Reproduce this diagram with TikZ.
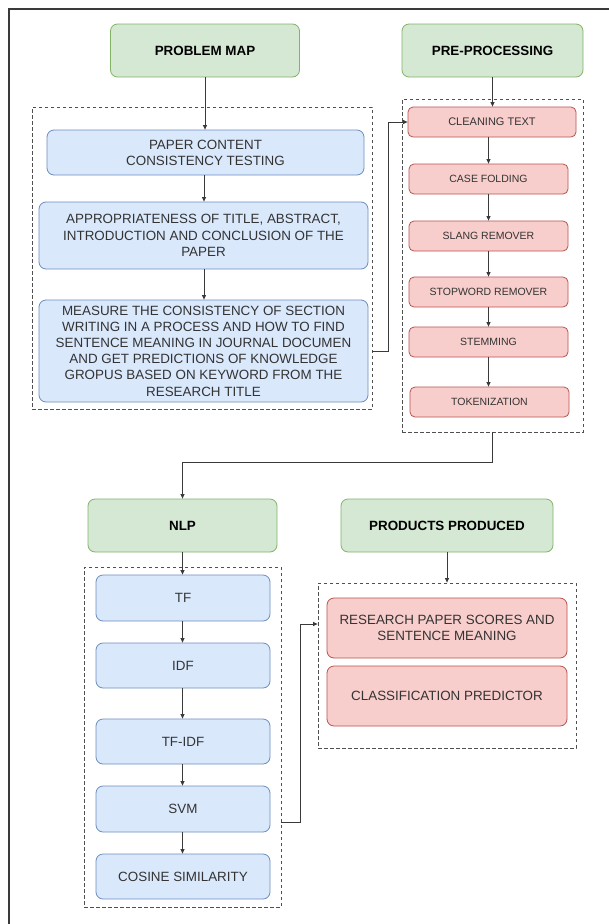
\documentclass[tikz,border=0pt]{standalone}
\usepackage{fontspec}
\setmainfont{Liberation Sans}
\usetikzlibrary{arrows.meta,calc}
\definecolor{gfill}{HTML}{D5E8D4}\definecolor{gline}{HTML}{82B366}
\definecolor{bfill}{HTML}{DAE8FC}\definecolor{bline}{HTML}{6C8EBF}
\definecolor{rfill}{HTML}{F8CECC}\definecolor{rline}{HTML}{B85450}
\definecolor{txt}{HTML}{333333}\definecolor{lin}{HTML}{3A3A3A}
\definecolor{dsh}{HTML}{505050}
\tikzset{
  base/.style={rounded corners=7pt, line width=0.8pt, inner sep=2pt, align=center, text=txt,
    font=\fontsize{13.4}{16.2}\selectfont},
  head/.style={base, fill=gfill, draw=gline, text=black, font=\fontsize{13.4}{16.2}\selectfont\bfseries},
  bluebox/.style={base, fill=bfill, draw=bline},
  redbox/.style={base, fill=rfill, draw=rline},
  smallred/.style={redbox, rounded corners=5pt, font=\fontsize{10.5}{12.5}\selectfont},
  group/.style={draw=dsh, dash pattern=on 3.5pt off 2.5pt, line width=0.8pt},
  arr/.style={draw=lin, line width=0.8pt, -{Triangle[length=4.5pt,width=4pt]}},
  frame/.style={draw=lin, line width=1.2pt}
}
\begin{document}
\begin{tikzpicture}[x=1pt,y=-1pt]
\useasboundingbox (0,0) rectangle (609,924);
\fill[white] (0,0) rectangle (609,924);
\draw[frame] (9,924) -- (9,9) -- (609,9);

% group boxes
\node[group, minimum width=340pt, minimum height=302pt] (dl) at (202,258) {};
\node[group, minimum width=181pt, minimum height=333pt] (dr) at (492.5,265.5) {};
\node[group, minimum width=197pt, minimum height=340pt] (dn) at (182.5,737) {};
\node[group, minimum width=258pt, minimum height=165pt] (dp) at (447,665.5) {};

% headers
\node[head, minimum width=189pt, minimum height=53pt] (pm) at (205,50.5) {PROBLEM MAP};
\node[head, minimum width=181pt, minimum height=53pt] (pp) at (492.5,50.5) {PRE-PROCESSING};
\node[head, minimum width=189pt, minimum height=53pt] (nlp) at (182.5,525.5) {NLP};
\node[head, minimum width=212pt, minimum height=53pt] (prod) at (447,525.5) {PRODUCTS PRODUCED};

% problem map column
\node[bluebox, minimum width=317pt, minimum height=45pt] (b1) at (205.5,152.5) {PAPER CONTENT\\CONSISTENCY TESTING};
\node[bluebox, minimum width=329pt, minimum height=67pt] (b2) at (203.5,235.5) {APPROPRIATENESS OF TITLE, ABSTRACT,\\INTRODUCTION AND CONCLUSION OF THE\\PAPER};
\node[bluebox, minimum width=329pt, minimum height=102pt] (b3) at (203.5,351) {MEASURE THE CONSISTENCY OF SECTION\\WRITING IN A PROCESS AND HOW TO FIND\\SENTENCE MEANING IN JOURNAL DOCUMEN\\AND GET PREDICTIONS OF KNOWLEDGE\\GROPUS BASED ON KEYWORD FROM THE\\RESEARCH TITLE};

% pre-processing column
\node[smallred, minimum width=168pt, minimum height=30pt, font=\fontsize{11}{13}\selectfont] (r1) at (492,122) {CLEANING TEXT};
\node[smallred, minimum width=159pt, minimum height=30pt] (r2) at (488.5,179) {CASE FOLDING};
\node[smallred, minimum width=159pt, minimum height=30pt] (r3) at (488.5,236) {SLANG REMOVER};
\node[smallred, minimum width=159pt, minimum height=30pt] (r4) at (488.5,292) {STOPWORD REMOVER};
\node[smallred, minimum width=159pt, minimum height=30pt] (r5) at (488.5,342) {STEMMING};
\node[smallred, minimum width=159pt, minimum height=30pt] (r6) at (489.5,402) {TOKENIZATION};

% nlp column
\node[bluebox, minimum width=174pt, minimum height=46pt] (n1) at (183,598) {TF};
\node[bluebox, minimum width=174pt, minimum height=45pt] (n2) at (183,665.5) {IDF};
\node[bluebox, minimum width=174pt, minimum height=45pt] (n3) at (183,741.5) {TF-IDF};
\node[bluebox, minimum width=174pt, minimum height=46pt] (n4) at (183,809) {SVM};
\node[bluebox, minimum width=174pt, minimum height=45pt] (n5) at (183,876.5) {COSINE SIMILARITY};

% products
\node[redbox, minimum width=240pt, minimum height=60pt] (p1) at (447,628) {RESEARCH PAPER SCORES AND\\SENTENCE MEANING};
\node[redbox, minimum width=240pt, minimum height=60pt] (p2) at (447,696) {CLASSIFICATION PREDICTOR};

% connectors
\coordinate (ax) at (204,0);
\draw[arr] (pm.south) -- (pm.south |- b1.north);
\draw[arr] (b1.south -| ax) -- (b2.north -| ax);
\draw[arr] (b2.south -| ax) -- (b3.north -| ax);

\draw[arr] (pp.south) -- (pp.south |- r1.north);
\draw[arr] (r1.south -| r2.north) -- (r2.north);
\draw[arr] (r2.south) -- (r3.north);
\draw[arr] (r3.south) -- (r4.north);
\draw[arr] (r4.south) -- (r5.north);
\draw[arr] (r5.south) -- (r5.south |- r6.north);

\draw[arr] (dl.east |- b3.east) -- ++(16,0) |- (r1.west);
\draw[arr] (dr.south) -- ++(0,30) -| (nlp.north);

\draw[arr] (nlp.south) -- (nlp.south |- n1.north);
\draw[arr] (n1.south -| nlp.south) -- (nlp.south |- n2.north);
\draw[arr] (n2.south -| nlp.south) -- (nlp.south |- n3.north);
\draw[arr] (n3.south -| nlp.south) -- (nlp.south |- n4.north);
\draw[arr] (n4.south -| nlp.south) -- (nlp.south |- n5.north);

\coordinate (svmout) at (281,822);
\coordinate (prodin) at (318,624);
\draw[arr] (dn.east |- svmout) -- ++(19,0) |- (dp.west |- prodin);
\draw[arr] (prod.south) -- (dp.north);
\end{tikzpicture}
\end{document}
